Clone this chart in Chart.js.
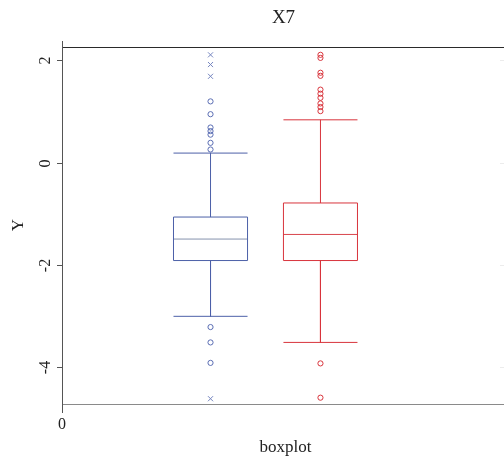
<!DOCTYPE html>
<html>
<head>
<meta charset="utf-8">
<script src="https://cdn.jsdelivr.net/npm/chart.js@4/dist/chart.umd.min.js"></script>
<style>
  html, body { margin: 0; padding: 0; background: #fff; }
  #wrap { width: 504px; height: 466px; }
</style>
</head>
<body>
<div id="wrap"><canvas id="c" width="504" height="466"></canvas></div>
<script>
// Box-plot summary for the two groups (left: blue, right: red)
const groupColors   = ['#4c60a8', '#d8343c'];
const medianColors  = ['#8593ad', '#d8444c'];
const boxLeft       = [1.0, 1.995];
const boxRight      = [1.67, 2.665];
const whiskerLow    = [-3.0, -3.51];
const quartile1     = [-1.91, -1.91];
const medians       = [-1.49, -1.40];
const quartile3     = [-1.06, -0.785];
const whiskerHigh   = [0.19, 0.84];

// Outlying observations
const blueCircles = [1.20, 0.95, 0.69, 0.62, 0.55, 0.39, 0.26, -3.21, -3.51, -3.91];
const blueCrosses = [2.11, 1.92, 1.69, -4.61];
const redCircles  = [2.11, 2.05, 1.76, 1.70, 1.43, 1.35, 1.27, 1.16, 1.09, 1.01, -3.92, -4.59];

// Axis
const yTicks = [2, 0, -2, -4];
const xTicks = [0];
const yMin = -4.733, yMax = 2.263;
const xMin = 0, xMax = 3.991;

const serif = '"Liberation Serif", "DejaVu Serif", serif';

function center(i) { return (boxLeft[i] + boxRight[i]) / 2; }

// Each piece of a box plot is its own two-point segment
function segments(i) {
  const c = center(i);
  return [
    [[boxLeft[i], quartile1[i]], [boxLeft[i], quartile3[i]]],
    [[boxRight[i], quartile1[i]], [boxRight[i], quartile3[i]]],
    [[boxLeft[i], quartile3[i]], [boxRight[i], quartile3[i]]],
    [[boxLeft[i], quartile1[i]], [boxRight[i], quartile1[i]]],
    [[c, quartile3[i]], [c, whiskerHigh[i]]],
    [[boxLeft[i], whiskerHigh[i]], [boxRight[i], whiskerHigh[i]]],
    [[c, quartile1[i]], [c, whiskerLow[i]]],
    [[boxLeft[i], whiskerLow[i]], [boxRight[i], whiskerLow[i]]]
  ];
}

const datasets = [];
[0, 1].forEach(i => {
  segments(i).forEach(seg => {
    datasets.push({ type: 'line', data: seg.map(p => ({ x: p[0], y: p[1] })),
      borderColor: groupColors[i], borderWidth: 1, pointRadius: 0, fill: false, tension: 0 });
  });
  datasets.push({ type: 'line', data: [{ x: boxLeft[i], y: medians[i] }, { x: boxRight[i], y: medians[i] }],
    borderColor: medianColors[i], borderWidth: 1, pointRadius: 0, fill: false, tension: 0 });
});

datasets.push(
  { type: 'scatter', data: blueCircles.map(v => ({ x: center(0), y: v })),
    pointStyle: 'circle', pointRadius: 2.6, borderWidth: 1,
    borderColor: '#5a6db3', backgroundColor: 'rgba(255,255,255,0)' },
  { type: 'scatter', data: blueCrosses.map(v => ({ x: center(0), y: v })),
    pointStyle: 'crossRot', pointRadius: 3.6, borderWidth: 1,
    borderColor: '#7585bf', backgroundColor: 'rgba(255,255,255,0)' },
  { type: 'scatter', data: redCircles.map(v => ({ x: center(1), y: v })),
    pointStyle: 'circle', pointRadius: 2.6, borderWidth: 1,
    borderColor: '#d8343c', backgroundColor: 'rgba(255,255,255,0)' }
);

// Frame, ticks and text drawn around the plotting area
const framePlugin = {
  id: 'frame',
  afterDraw(chart) {
    const ctx = chart.ctx;
    const a = chart.chartArea;
    const ys = chart.scales.y, xs = chart.scales.x;
    ctx.save();
    ctx.lineWidth = 1;

    // top border
    ctx.strokeStyle = '#2a2a2a';
    ctx.beginPath(); ctx.moveTo(a.left, a.top + 0.5); ctx.lineTo(a.right, a.top + 0.5); ctx.stroke();
    // bottom axis
    ctx.strokeStyle = '#8a8a8a';
    ctx.beginPath(); ctx.moveTo(a.left, a.bottom - 0.5); ctx.lineTo(a.right, a.bottom - 0.5); ctx.stroke();
    // left axis (continues down as the x tick)
    ctx.strokeStyle = '#555';
    ctx.beginPath(); ctx.moveTo(a.left - 0.5, a.top - 6); ctx.lineTo(a.left - 0.5, a.bottom + 8); ctx.stroke();

    // y ticks and rotated labels
    ctx.font = '16px ' + serif;
    ctx.fillStyle = '#222';
    ctx.textAlign = 'center';
    ctx.textBaseline = 'middle';
    yTicks.forEach(v => {
      const py = Math.round(ys.getPixelForValue(v)) + 0.5;
      ctx.strokeStyle = '#555';
      ctx.beginPath(); ctx.moveTo(a.left - 6, py); ctx.lineTo(a.left, py); ctx.stroke();
      ctx.strokeStyle = '#ececec';
      ctx.beginPath(); ctx.moveTo(a.right - 4, py); ctx.lineTo(a.right, py); ctx.stroke();
      ctx.save();
      ctx.translate(46, py);
      ctx.rotate(-Math.PI / 2);
      ctx.fillText(String(v), 0, 0);
      ctx.restore();
    });

    // x tick labels
    xTicks.forEach(v => {
      const px = xs.getPixelForValue(v);
      ctx.fillText(String(v), px - 1, a.bottom + 20);
    });

    // axis titles
    ctx.font = '17px ' + serif;
    ctx.fillText('boxplot', (a.left + a.right) / 2 + 2, 448);
    ctx.save();
    ctx.translate(19, 225);
    ctx.rotate(-Math.PI / 2);
    ctx.fillText('Y', 0, 0);
    ctx.restore();

    // chart title
    ctx.font = '19px ' + serif;
    ctx.fillText('X7', (a.left + a.right) / 2, 18);
    ctx.restore();
  }
};

new Chart(document.getElementById('c'), {
  type: 'scatter',
  data: { datasets },
  options: {
    responsive: false,
    animation: false,
    layout: { autoPadding: false, padding: { left: 63, top: 47, right: 0, bottom: 61 } },
    plugins: { legend: { display: false }, tooltip: { enabled: false }, title: { display: false } },
    scales: {
      x: { type: 'linear', display: false, min: xMin, max: xMax },
      y: { type: 'linear', display: false, min: yMin, max: yMax }
    }
  },
  plugins: [framePlugin]
});
</script>
</body>
</html>
